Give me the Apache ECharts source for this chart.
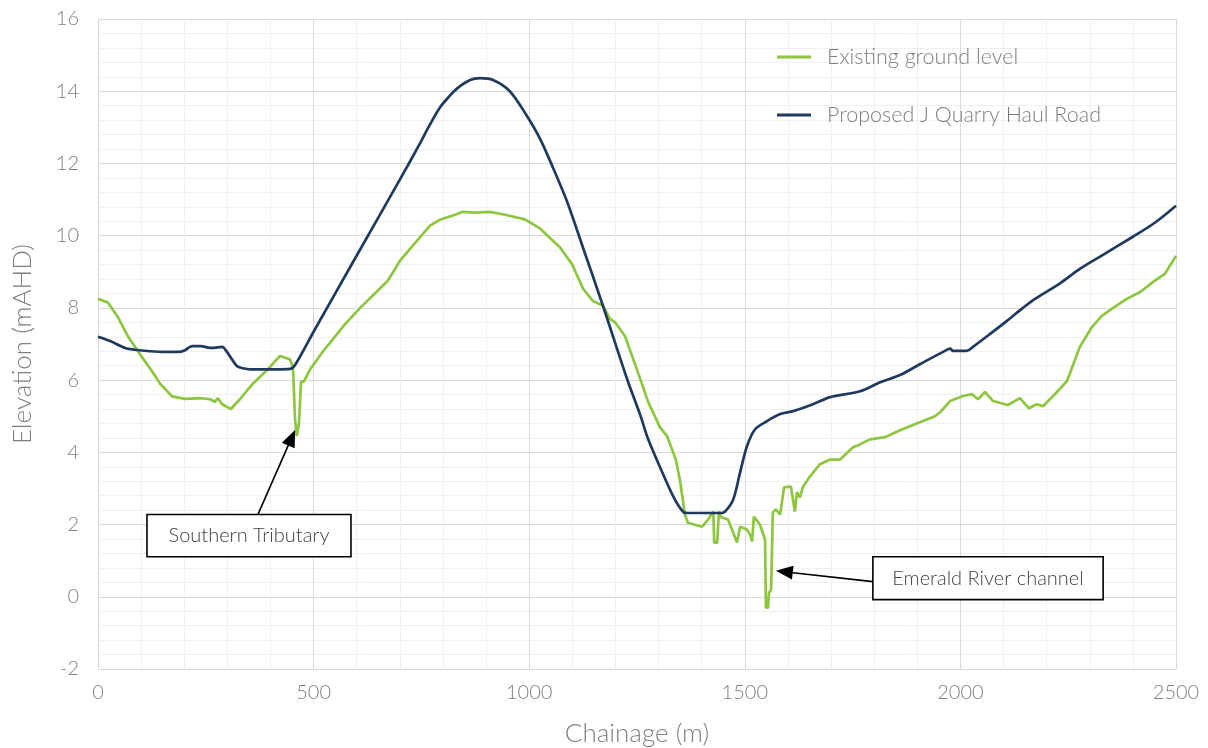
<!DOCTYPE html>
<html>
<head>
<meta charset="utf-8">
<script src="https://cdn.jsdelivr.net/npm/echarts@6/dist/echarts.min.js"></script>
<style>
  html, body { margin: 0; padding: 0; background: #ffffff; }
  #chart { width: 1208px; height: 748px; }
</style>
</head>
<body>
<div id="chart"></div>
<script>
// Long section: existing ground vs proposed haul road (chainage in m, elevation in mAHD)
const groundChainage = [0, 23, 46, 70, 97, 125, 144, 172, 202, 237, 260, 271, 278, 288, 308, 329, 359, 394, 422, 445,
  452, 457, 461, 466, 471, 477, 492, 526, 573, 608, 642, 672, 700, 724, 770, 793, 828, 846, 874, 909,
  944, 990, 1025, 1071, 1099, 1125, 1148, 1171, 1187, 1199, 1222, 1252, 1276, 1303, 1320, 1340, 1350, 1361, 1368, 1401,
  1415, 1427, 1429, 1436, 1440, 1445, 1461, 1482, 1489, 1505, 1512, 1517, 1521, 1535, 1547, 1549, 1554, 1556, 1561, 1565,
  1572, 1582, 1591, 1607, 1616, 1621, 1628, 1635, 1651, 1674, 1698, 1721, 1751, 1767, 1790, 1825, 1860, 1906, 1941, 1953,
  1976, 2006, 2027, 2041, 2057, 2076, 2110, 2138, 2159, 2177, 2192, 2224, 2247, 2277, 2305, 2328, 2354, 2386, 2417, 2447,
  2474, 2500];
const groundLevel = [8.25, 8.15, 7.75, 7.2, 6.72, 6.25, 5.9, 5.55, 5.48, 5.5, 5.47, 5.4, 5.5, 5.33, 5.2, 5.47, 5.9, 6.3, 6.67, 6.58,
  6.36, 4.9, 4.45, 4.8, 5.97, 5.95, 6.3, 6.86, 7.55, 8.0, 8.4, 8.75, 9.3, 9.64, 10.28, 10.44, 10.58, 10.66, 10.64, 10.66,
  10.58, 10.45, 10.2, 9.68, 9.22, 8.53, 8.19, 8.06, 7.7, 7.6, 7.22, 6.22, 5.39, 4.7, 4.44, 3.8, 3.2, 2.28, 2.05, 1.94,
  2.14, 2.36, 1.5, 1.5, 2.36, 2.2, 2.14, 1.5, 1.94, 1.86, 1.72, 1.53, 2.22, 2.0, 1.58, -0.3, -0.3, 0.1, 0.2, 2.33,
  2.42, 2.28, 3.03, 3.05, 2.36, 2.9, 2.75, 3.05, 3.33, 3.67, 3.8, 3.8, 4.14, 4.22, 4.36, 4.42, 4.61, 4.83, 5.0, 5.11,
  5.42, 5.56, 5.61, 5.47, 5.67, 5.42, 5.31, 5.5, 5.22, 5.33, 5.28, 5.67, 5.97, 6.92, 7.47, 7.78, 8.0, 8.25, 8.44, 8.72,
  8.94, 9.44];

const roadChainage = [0, 28, 63, 86, 121, 155, 186, 202, 213, 220, 237, 264, 288, 299, 322, 336, 353, 422, 445, 457,
  500, 600, 700, 747, 770, 793, 814, 833, 863, 886, 916, 955, 994, 1025, 1056, 1088, 1125, 1171, 1227, 1257, 1276,
  1303, 1334, 1357, 1368, 1444, 1454, 1473, 1489, 1505, 1524, 1551, 1582, 1612, 1658, 1698, 1767, 1814, 1860, 1906, 1964,
  1976, 1983, 2015, 2029, 2069, 2108, 2145, 2173, 2231, 2277, 2324, 2400, 2450, 2500];
const roadLevel = [7.2, 7.08, 6.89, 6.84, 6.8, 6.78, 6.78, 6.83, 6.92, 6.94, 6.94, 6.89, 6.92, 6.78, 6.39, 6.33, 6.3, 6.3, 6.31, 6.42,
  7.34, 9.45, 11.55, 12.56, 13.08, 13.55, 13.85, 14.08, 14.31, 14.36, 14.31, 14.0, 13.33, 12.69, 11.86, 10.94, 9.66, 8.06, 6.03, 5.05, 4.36,
  3.6, 2.78, 2.35, 2.32, 2.32, 2.36, 2.69, 3.44, 4.17, 4.64, 4.86, 5.06, 5.14, 5.33, 5.53, 5.69, 5.94, 6.14, 6.44, 6.81,
  6.87, 6.81, 6.81, 6.92, 7.28, 7.64, 8.0, 8.25, 8.68, 9.08, 9.42, 9.97, 10.35, 10.83];

const seriesNames = ['Existing ground level', 'Proposed J Quarry Haul Road'];

// Callout boxes and arrows, positioned in chart units (chainage, elevation)
const callouts = [
  { text: 'Southern Tributary', box: [113.6, 2.28, 586.7, 1.11], from: [371, 2.28], to: [457, 4.62] },
  { text: 'Emerald River channel', box: [1797, 1.11, 2331, -0.08], from: [1797, 0.42], to: [1572, 0.72] }
];

const pair = (xs, ys) => xs.map((x, i) => [x, ys[i]]);

const FONT = 'Lato';
const GREY = '#7f7f7f';

const chart = echarts.init(document.getElementById('chart'), null, { renderer: 'canvas' });

chart.setOption({
  animation: false,
  backgroundColor: '#ffffff',
  textStyle: { fontFamily: FONT },
  grid: { left: 98, right: 32, top: 19, bottom: 79, containLabel: false, outerBoundsMode: 'none' },
  legend: {
    orient: 'vertical',
    left: 772,
    top: 41,
    icon: 'rect',
    itemWidth: 34,
    itemHeight: 3,
    itemGap: 36,
    textStyle: { fontFamily: FONT, fontSize: 21.5, fontWeight: 300, color: GREY, padding: [0, 0, 0, 11], lineHeight: 22 },
    data: seriesNames
  },
  xAxis: {
    type: 'value',
    min: 0, max: 2500, interval: 500,
    name: 'Chainage (m)',
    nameLocation: 'middle',
    nameGap: 52,
    nameTextStyle: { fontFamily: FONT, fontSize: 26, fontWeight: 300, color: GREY },
    axisLine: { show: true, lineStyle: { color: '#d9d9d9', width: 1 } },
    axisTick: { show: false },
    axisLabel: { fontFamily: FONT, fontSize: 20, fontWeight: 300, color: GREY, margin: 14, formatter: (v) => String(v) },
    splitLine: { show: true, lineStyle: { color: '#d9d9d9', width: 1 } },
    minorTick: { show: false, splitNumber: 5 },
    minorSplitLine: { show: true, lineStyle: { color: '#f0f0f0', width: 1 } }
  },
  yAxis: {
    type: 'value',
    min: -2, max: 16, interval: 2,
    name: 'Elevation (mAHD)',
    nameLocation: 'middle',
    nameGap: 62,
    nameTextStyle: { fontFamily: FONT, fontSize: 26, fontWeight: 300, color: GREY },
    axisLine: { show: true, lineStyle: { color: '#d9d9d9', width: 1 } },
    axisTick: { show: false },
    axisLabel: { fontFamily: FONT, fontSize: 20, fontWeight: 300, color: GREY, margin: 19 },
    splitLine: { show: true, lineStyle: { color: '#d9d9d9', width: 1 } },
    minorTick: { show: false, splitNumber: 5 },
    minorSplitLine: { show: true, lineStyle: { color: '#f0f0f0', width: 1 } }
  },
  series: [
    {
      name: seriesNames[0],
      type: 'line',
      data: pair(groundChainage, groundLevel),
      showSymbol: false,
      symbol: 'none',
      color: '#8dc63f',
      lineStyle: { color: '#8dc63f', width: 2.7 },
      z: 3
    },
    {
      name: seriesNames[1],
      type: 'line',
      data: pair(roadChainage, roadLevel),
      showSymbol: false,
      symbol: 'none',
      smooth: 0.3,
      color: '#1f3a5f',
      lineStyle: { color: '#1f3a5f', width: 2.7 },
      z: 4
    }
  ]
});

// Draw callout boxes and arrows on top of the plot
function drawCallouts() {
  const elements = [];
  callouts.forEach((c) => {
    const p1 = chart.convertToPixel({ gridIndex: 0 }, [c.box[0], c.box[1]]);
    const p2 = chart.convertToPixel({ gridIndex: 0 }, [c.box[2], c.box[3]]);
    const a = chart.convertToPixel({ gridIndex: 0 }, c.from);
    const b = chart.convertToPixel({ gridIndex: 0 }, c.to);
    // arrow shaft, stopped short of the tip so the head stays sharp
    const dx = b[0] - a[0], dy = b[1] - a[1];
    const len = Math.sqrt(dx * dx + dy * dy);
    const ux = dx / len, uy = dy / len;
    const headLen = 17, headHalf = 7;
    const base = [b[0] - ux * headLen, b[1] - uy * headLen];
    elements.push({
      type: 'line',
      shape: { x1: a[0], y1: a[1], x2: base[0] + ux * 2, y2: base[1] + uy * 2 },
      style: { stroke: '#000000', lineWidth: 1.6 },
      z: 100
    });
    elements.push({
      type: 'polygon',
      shape: {
        points: [
          [b[0], b[1]],
          [base[0] - uy * headHalf, base[1] + ux * headHalf],
          [base[0] + uy * headHalf, base[1] - ux * headHalf]
        ]
      },
      style: { fill: '#000000' },
      z: 100
    });
    elements.push({
      type: 'rect',
      shape: { x: p1[0], y: p1[1], width: p2[0] - p1[0], height: p2[1] - p1[1] },
      style: { fill: '#ffffff', stroke: '#000000', lineWidth: 1.6 },
      z: 101
    });
    elements.push({
      type: 'text',
      x: (p1[0] + p2[0]) / 2,
      y: (p1[1] + p2[1]) / 2,
      style: {
        text: c.text,
        fontFamily: FONT,
        fontSize: 20,
        fontWeight: 300,
        fill: '#404040',
        align: 'center',
        verticalAlign: 'middle'
      },
      z: 102
    });
  });
  chart.setOption({ graphic: { elements: elements } });
}
drawCallouts();
</script>
</body>
</html>
